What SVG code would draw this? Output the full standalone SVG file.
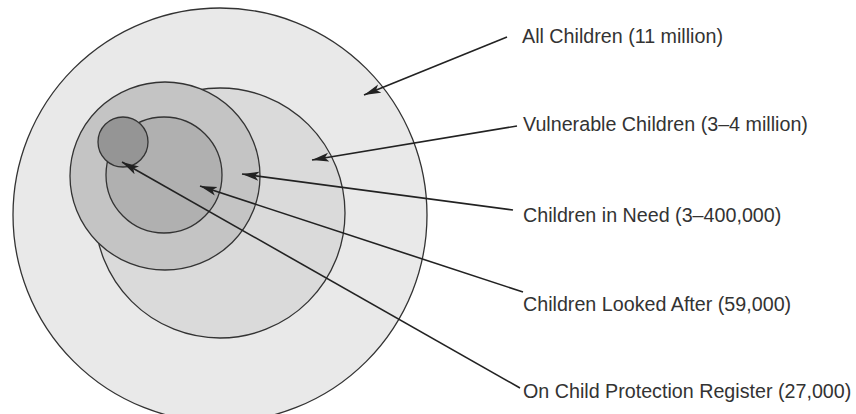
<svg xmlns="http://www.w3.org/2000/svg" width="856" height="414" viewBox="0 0 856 414">
<style>
.ring{stroke:#333;stroke-width:1.3}
.lbl{font-family:"Liberation Sans",Arial,sans-serif;font-size:19.7px;fill:#333}
.lead{stroke:#222;stroke-width:1.6;fill:none}
</style>
<defs>
<marker id="ah" viewBox="0 -5 18 10" markerWidth="18" markerHeight="10" refX="17" refY="0" orient="auto" markerUnits="userSpaceOnUse">
<path d="M0,-4.5 L17,0 L0,4.5 L4,0 z" fill="#222"/>
</marker>
</defs>
<rect width="856" height="414" fill="#fff"/>
<g id="all-children"><circle class="ring" cx="220" cy="215" r="207" fill="#e9e9e9"/></g>
<g id="vulnerable-children"><ellipse class="ring" cx="220" cy="213" rx="125" ry="125" fill="#dadada"/></g>
<g id="children-in-need"><ellipse class="ring" cx="165" cy="176" rx="95" ry="94" fill="#c4c4c4"/></g>
<g id="children-looked-after"><circle class="ring" cx="164" cy="175" r="58" fill="#b0b0b0"/></g>
<g id="child-protection-register"><circle class="ring" cx="123" cy="142" r="25" fill="#959595"/></g>
<g id="connectors">
<line class="lead" x1="507" y1="37" x2="364" y2="95" marker-end="url(#ah)"/>
<line class="lead" x1="517" y1="126" x2="312" y2="160" marker-end="url(#ah)"/>
<line class="lead" x1="513" y1="210" x2="242" y2="174" marker-end="url(#ah)"/>
<line class="lead" x1="523" y1="292" x2="200" y2="186" marker-end="url(#ah)"/>
<line class="lead" x1="520" y1="388" x2="122" y2="162" marker-end="url(#ah)"/>
</g>
<g id="labels">
<text class="lbl" x="522" y="43">All Children (11 million)</text>
<text class="lbl" x="523" y="131">Vulnerable Children (3–4 million)</text>
<text class="lbl" x="523" y="222">Children in Need (3–400,000)</text>
<text class="lbl" x="523" y="311">Children Looked After (59,000)</text>
<text class="lbl" x="523" y="398">On Child Protection Register (27,000)</text>
</g>
</svg>
